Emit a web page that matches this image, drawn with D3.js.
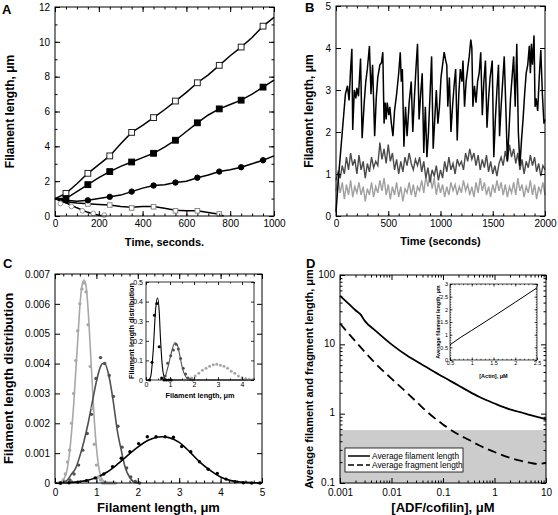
<!DOCTYPE html>
<html><head><meta charset="utf-8">
<script src="https://cdn.jsdelivr.net/npm/d3@7/dist/d3.min.js"></script>
<style>body{margin:0;background:#fff}svg{display:block}</style>
</head><body>
<svg id="c" width="558" height="515"></svg>
<script>
// ---------- Panel A data ----------
const aTime = [0,50,100,150,200,250,300,350,400,450,500,550,600,650,700,750,800,850,900,950,1000];
const aOpenSq = [1.0,1.3,1.85,2.45,2.95,3.45,4.15,4.8,5.2,5.65,6.1,6.6,7.1,7.65,8.1,8.65,9.2,9.7,10.25,10.9,11.4];
const aFillSq = [1.0,1.0,1.4,1.8,2.2,2.55,2.85,3.1,3.35,3.6,3.95,4.35,4.85,5.35,5.8,6.15,6.4,6.65,7.0,7.4,7.8];
const aFillCi = [1.0,0.9,0.85,0.9,1.0,1.1,1.2,1.4,1.6,1.75,1.8,1.92,2.0,2.2,2.35,2.55,2.65,2.8,3.0,3.2,3.45];
const aMarkIdx = [1,3,5,7,9,11,13,15,17,19];
const aGraySqTime = [0,50,100,150,200,250,300,350,400,450,500,550,600,650,700,750,770];
const aGraySq = [1.0,0.82,0.75,0.7,0.66,0.63,0.55,0.5,0.55,0.55,0.45,0.33,0.3,0.3,0.2,0.1,0.0];
const aGraySqMarkT = [150,250,350,450,550,650,750];
const aGraySqMarkV = [0.69,0.63,0.46,0.53,0.3,0.3,0.12];
const aGrayCiTime = [0,25,50,75,100,125,150,175,200,225];
const aGrayCi = [1.0,0.86,0.76,0.62,0.47,0.34,0.21,0.12,0.04,0.0];
const aGrayCiMarkT = [25,75,125,175,225];
const aGrayCiMarkV = [0.72,0.55,0.3,0.15,0.05];

// ---------- Panel B data ----------
const bBlackT = [0,30,60,90,110,125,140,152,160,175,190,200,215,235,250,270,285,300,320,335,350,370,385,400,420,435,448,460,470,480,490,505,515,530,545,560,580,600,615,625,635,650,665,680,700,720,735,750,765,780,795,810,825,840,855,870,885,900,915,930,945,960,975,990,1005,1020,1035,1050,1060,1070,1085,1100,1115,1130,1145,1160,1175,1190,1205,1215,1230,1245,1260,1275,1290,1300,1310,1325,1340,1355,1370,1385,1400,1415,1430,1445,1460,1475,1495,1510,1525,1540,1555,1565,1580,1595,1610,1625,1640,1655,1670,1685,1700,1715,1730,1745,1760,1775,1790,1805,1820,1835,1850,1860,1870,1880,1895,1905,1915,1930,1945,1960,1975,1990,2000];
const bBlackV = [0.1,1.1,2.0,2.9,3.1,2.75,3.5,3.98,2.05,3.0,2.8,3.05,2.85,3.75,1.85,2.7,3.2,3.5,4.05,2.9,3.6,1.9,2.8,3.3,3.6,3.65,3.9,2.2,2.7,2.3,2.7,2.4,2.6,2.2,1.9,2.5,2.9,3.4,3.9,3.2,3.5,1.65,2.6,1.9,2.7,3.2,2.0,2.8,3.5,4.1,2.3,2.9,3.4,1.5,2.6,1.4,2.0,2.9,3.8,1.6,2.3,3.0,2.2,2.6,3.3,3.6,3.9,3.7,3.6,2.6,3.3,2.0,2.6,3.1,3.5,1.8,2.9,3.5,3.2,3.7,2.6,3.2,3.5,3.8,4.2,4.0,2.6,3.1,2.7,3.2,3.4,3.9,2.4,3.2,3.7,2.1,2.8,3.3,3.7,1.4,2.3,3.0,3.6,1.9,2.6,3.2,3.8,2.6,1.3,2.0,2.8,3.3,3.8,2.6,4.1,2.0,1.2,1.8,2.3,2.9,3.4,3.6,4.05,3.4,4.1,3.6,4.3,2.6,2.8,2.5,3.3,3.95,2.9,2.2,2.3];
const bTime = d3.range(0, 2001, 20);
const bDark = [0.85,1.05,0.9,1.2,1.0,1.4,1.1,1.5,1.2,1.35,
  1.0,1.45,1.1,1.3,0.9,1.25,1.05,1.4,1.15,1.3,
  1.2,1.75,1.35,1.6,1.25,1.7,1.3,1.5,1.1,1.35,
  1.0,1.3,1.05,1.4,1.2,1.5,1.25,1.1,1.35,1.2,
  1.4,1.05,1.3,0.9,1.15,0.8,1.1,0.95,1.2,0.85,
  1.1,0.9,1.3,1.05,1.4,1.1,1.25,1.0,1.35,1.2,
  1.3,1.1,1.5,1.3,1.6,1.35,1.5,1.2,1.45,1.1,
  1.35,1.15,1.45,1.05,1.3,1.0,1.2,0.95,1.25,1.4,
  1.2,1.55,1.3,1.7,1.4,1.6,1.25,1.5,1.1,1.35,
  1.0,1.3,1.15,1.45,1.2,1.4,1.05,1.25,0.95,1.2,
  1.1];
const bLight = [0.6,0.9,0.55,0.8,0.4,0.75,0.5,0.85,0.45,0.7,
  0.55,0.8,0.5,0.7,0.35,0.65,0.5,0.8,0.45,0.7,
  0.55,0.85,0.6,0.9,0.5,0.75,0.4,0.7,0.5,0.8,
  0.45,0.7,0.35,0.65,0.55,0.8,0.5,0.75,0.45,0.7,
  0.6,0.85,0.55,0.95,0.7,1.0,0.65,0.9,0.5,0.8,
  0.55,0.75,0.45,0.7,0.5,0.8,0.6,0.75,0.5,0.7,
  0.55,0.85,0.6,0.75,0.5,0.7,0.45,0.8,0.55,0.9,
  0.6,0.8,0.5,0.7,0.45,0.75,0.55,0.85,0.6,0.8,
  0.5,0.75,0.45,0.7,0.55,0.8,0.5,0.9,0.6,0.75,
  0.45,0.7,0.55,0.85,0.5,0.75,0.4,0.7,0.55,0.8,
  0.5];

// ---------- Panel C data ----------
const cLightDotX = [0.1,0.15,0.2,0.25,0.3,0.35,0.4,0.45,0.5,0.55,0.6,0.65,0.7,0.75,0.8,0.85,0.9,0.95,1.0,1.05,1.1,1.15,1.2,1.25,1.3,1.35,1.4,1.45];
const cLightDotY = [0,0,0.0001,0.0003,0.0007,0.0011,0.002,0.003,0.0041,0.0051,0.006,0.0065,0.0067,0.0064,0.0053,0.0039,0.0025,0.0013,0.0006,0.0002,0.0001,0,0,0,0,0,0,0];
const cLightFitX = [0.1,0.2,0.3,0.35,0.4,0.45,0.5,0.55,0.6,0.65,0.7,0.75,0.8,0.85,0.9,0.95,1.0,1.05,1.1,1.2,1.3,1.5];
const cLightFitY = [0,0.0001,0.0005,0.001,0.0017,0.0026,0.0037,0.0048,0.0059,0.0066,0.0068,0.0066,0.0058,0.0046,0.0033,0.0021,0.0012,0.0006,0.00025,0.00003,0,0];
const cDarkDotX = [0.14,0.25,0.36,0.46,0.57,0.67,0.78,0.88,0.99,1.10,1.20,1.31,1.41,1.52,1.62,1.73,1.83,1.94,2.04];
const cDarkDotY = [0,0.00003,0.0001,0.0003,0.0006,0.0011,0.00166,0.0023,0.0035,0.0042,0.0040,0.0036,0.0029,0.0019,0.0012,0.0005,0.0002,0.00005,0];
const cDarkFitX = [0.1,0.2,0.3,0.4,0.5,0.6,0.7,0.8,0.9,1.0,1.1,1.15,1.2,1.3,1.4,1.5,1.6,1.7,1.8,1.9,2.0];
const cDarkFitY = [0,0.00003,0.0001,0.0003,0.0005,0.0009,0.0014,0.002,0.0027,0.0034,0.0039,0.004,0.004,0.0036,0.0028,0.0018,0.0011,0.0005,0.0002,0.00004,0];
const cBlackDotX = [0.13,0.34,0.55,0.76,0.97,1.18,1.39,1.60,1.81,2.02,2.23,2.44,2.66,2.86,3.06,3.28,3.49,3.70,3.92,4.13,4.35,4.55,4.75,4.95];
const cBlackDotY = [0,0.00001,0.00003,0.00008,0.00017,0.0003,0.00055,0.00083,0.00105,0.00132,0.00155,0.00155,0.00155,0.00153,0.00122,0.00105,0.00071,0.00046,0.00032,0.00013,0.00004,0.00001,0,0];
const cBlackFitX = [0,0.25,0.5,0.75,1.0,1.25,1.5,1.75,2.0,2.25,2.5,2.6,2.75,3.0,3.25,3.5,3.75,4.0,4.25,4.5,4.75,5.0];
const cBlackFitY = [0,0.00001,0.00003,0.00008,0.00018,0.00036,0.00062,0.00092,0.0012,0.00143,0.00154,0.00155,0.00152,0.00136,0.00105,0.0007,0.00042,0.0002,0.00008,0.00003,0.00001,0];
// inset C
const ciBlackDotX = [0.15,0.25,0.35,0.45,0.55,0.65,0.75,0.85,0.95,1.05];
const ciBlackDotY = [0.0,0.09,0.33,0.39,0.17,0.01,0.0,0.0,0.0,0.0];
const ciBlackFitX = [0,0.1,0.2,0.3,0.4,0.48,0.55,0.6,0.7,0.8,0.9,4.5];
const ciBlackFitY = [0,0,0.02,0.15,0.36,0.42,0.35,0.22,0.05,0.005,0,0];
const ciDarkDotX = [0.8,0.9,1.03,1.14,1.25,1.35,1.44,1.55,1.65,1.75,1.85,1.95];
const ciDarkDotY = [0.02,0.085,0.124,0.153,0.182,0.158,0.11,0.06,0.03,0.01,0.003,0];
const ciDarkFitX = [0.6,0.8,0.9,1.0,1.1,1.2,1.3,1.4,1.5,1.6,1.7,1.8,2.0];
const ciDarkFitY = [0,0.02,0.06,0.11,0.16,0.19,0.18,0.13,0.07,0.03,0.01,0,0];
const ciLightDotX = [1.6,1.75,1.9,2.05,2.2,2.35,2.5,2.65,2.8,2.95,3.1,3.25,3.4,3.55,3.7,3.85,4.0,4.15,4.3,4.45];
const ciLightDotY = [0.0,0.005,0.01,0.02,0.035,0.05,0.06,0.07,0.078,0.08,0.075,0.07,0.06,0.045,0.035,0.02,0.012,0.008,0.004,0.002];

// ---------- Panel D data ----------
const dSolidX = [0.001,0.0015,0.002,0.0025,0.003,0.005,0.01,0.02,0.0316,0.05,0.1,0.2,0.316,0.5,1,2,3.16,5,10];
const dSolidY = [50,38,31,27,22,15.5,10,6.9,5.6,4.6,3.4,2.55,2.1,1.75,1.4,1.15,1.05,0.95,0.83];
const dDashX = [0.001,0.002,0.00316,0.005,0.01,0.02,0.0316,0.05,0.1,0.2,0.316,0.5,1,2,3.16,5,7,10];
const dDashY = [20,11,7.5,5.2,3.2,2.0,1.45,1.05,0.7,0.5,0.42,0.35,0.28,0.23,0.21,0.195,0.188,0.195];
const dBand = [0.1,0.58];
const dLegend = ["Average filament length","Average fragment length"];
const diX = [0.5,0.75,1.0,1.5,2.0,2.5];
const diY = [0.6,0.9,1.17,1.72,2.28,2.85];

// ---------- drawing ----------
const FONT = "'Liberation Sans', Arial, Helvetica, sans-serif";
const svg = d3.select('#c');
svg.append('rect').attr('width',558).attr('height',515).attr('fill','#fff');

function frame(g, x, y, o) {
  const [xa, xb] = x.range(), [yb, ya] = y.range();
  const tl = o.tl || 5, mt = tl/2, fs = o.fs || 10, sw = o.sw || 1;
  const add = (axis, tx, ty) => {
    const gg = g.append('g').attr('transform', `translate(${tx},${ty})`).call(axis);
    gg.select('.domain').remove();
    gg.selectAll('text').attr('font-size', fs).attr('font-family', FONT).attr('fill', '#000');
    gg.selectAll('line').attr('stroke', '#000').attr('stroke-width', sw);
    return gg;
  };
  add(d3.axisBottom(x).tickValues(o.xt).tickSize(-tl).tickPadding(o.px || 4).tickFormat(o.xf), 0, yb);
  add(d3.axisTop(x).tickValues(o.xt).tickSize(-tl).tickFormat(''), 0, ya);
  if (o.xm) {
    add(d3.axisBottom(x).tickValues(o.xm).tickSize(-mt).tickFormat(''), 0, yb);
    add(d3.axisTop(x).tickValues(o.xm).tickSize(-mt).tickFormat(''), 0, ya);
  }
  const ly = add(d3.axisLeft(y).tickValues(o.yt).tickSize(-tl).tickPadding(o.py || 5).tickFormat(o.yf), xa, 0);
  if (o.ydy) ly.selectAll('text').attr('dy', o.ydy);
  add(d3.axisRight(y).tickValues(o.yt).tickSize(-tl).tickFormat(''), xb, 0);
  if (o.ym) {
    add(d3.axisLeft(y).tickValues(o.ym).tickSize(-mt).tickFormat(''), xa, 0);
    add(d3.axisRight(y).tickValues(o.ym).tickSize(-mt).tickFormat(''), xb, 0);
  }
  g.append('rect').attr('x', xa).attr('y', ya).attr('width', xb - xa).attr('height', yb - ya)
    .attr('fill', 'none').attr('stroke', '#000').attr('stroke-width', sw);
}
function text(g, s, x, y, size, opts = {}) {
  const t = g.append('text').attr('x', x).attr('y', y).attr('font-size', size)
    .attr('font-family', FONT).attr('font-weight', opts.bold ? 'bold' : 'normal')
    .attr('text-anchor', opts.anchor || 'middle').attr('fill', '#000').text(s);
  if (opts.rot) t.attr('transform', `rotate(-90,${x},${y})`);
  return t;
}
const rng = (a, b, s) => d3.range(a, b + s/2, s);

// ===== Panel A =====
{
  const g = svg.append('g');
  const x = d3.scaleLinear([0, 1000], [55, 274]);
  const y = d3.scaleLinear([0, 12], [216, 7]);
  const ln = (xs, ys) => d3.line().x((d, i) => x(xs[i])).y(d => y(d))(ys);
  const lines = [[aTime, aOpenSq], [aTime, aFillSq], [aTime, aFillCi], [aGraySqTime, aGraySq], [aGrayCiTime, aGrayCi]];
  lines.forEach(([xs, ys]) => g.append('path').attr('d', ln(xs, ys)).attr('fill', 'none').attr('stroke', '#000').attr('stroke-width', 1.5));
  const sq = (xs, ys, s, fill, stroke) => g.append('g').selectAll('rect').data(ys).join('rect')
    .attr('x', (d, i) => x(xs[i]) - s/2).attr('y', d => y(d) - s/2).attr('width', s).attr('height', s)
    .attr('fill', fill).attr('stroke', stroke).attr('stroke-width', 1);
  const ci = (xs, ys, r, fill, stroke) => g.append('g').selectAll('circle').data(ys).join('circle')
    .attr('cx', (d, i) => x(xs[i])).attr('cy', d => y(d)).attr('r', r)
    .attr('fill', fill).attr('stroke', stroke).attr('stroke-width', 1);
  sq(aGraySqMarkT, aGraySqMarkV, 4.6, '#fff', '#8a8a8a');
  ci(aGrayCiMarkT, aGrayCiMarkV, 2.4, '#fff', '#9a9a9a');
  sq(aMarkIdx.map(i => aTime[i]), aMarkIdx.map(i => aOpenSq[i]), 5.8, '#fff', '#222');
  sq(aMarkIdx.map(i => aTime[i]), aMarkIdx.map(i => aFillSq[i]), 5.8, '#000', '#000');
  ci(aMarkIdx.map(i => aTime[i]), aMarkIdx.map(i => aFillCi[i]), 2.7, '#000', '#000');
  frame(g, x, y, { xt: rng(0, 1000, 200), xm: rng(0, 1000, 50), yt: rng(0, 12, 2), ym: rng(0, 12, 1), xf: d3.format('d'), yf: d3.format('d') });
  text(g, 'A', 2, 14, 13, { bold: true, anchor: 'start' });
  text(g, 'Time, seconds.', 164.5, 246, 11, { bold: true });
  text(g, 'Filament length, \u03bcm', 14, 111.5, 12, { bold: true, rot: true });
}

// ===== Panel B =====
{
  const g = svg.append('g');
  const x = d3.scaleLinear([0, 2000], [336, 545]);
  const y = d3.scaleLinear([0, 5], [216, 6]);
  const ln = (xs, ys) => d3.line().x((d, i) => x(xs[i])).y(d => y(d))(ys);
  g.append('path').attr('d', ln(bTime, bLight)).attr('fill', 'none').attr('stroke', '#a0a0a0').attr('stroke-width', 1.4);
  g.append('path').attr('d', ln(bTime, bDark)).attr('fill', 'none').attr('stroke', '#4a4a4a').attr('stroke-width', 1.4);
  g.append('path').attr('d', ln(bBlackT, bBlackV)).attr('fill', 'none').attr('stroke', '#000').attr('stroke-width', 1.5);
  frame(g, x, y, { xt: rng(0, 2000, 500), xm: rng(0, 2000, 100), yt: rng(0, 5, 1), xf: d3.format('d'), yf: d3.format('d') });
  text(g, 'B', 305, 12, 13, { bold: true, anchor: 'start' });
  text(g, 'Time (seconds)', 440.5, 245, 11, { bold: true });
  text(g, 'Filament length, \u03bcm', 313, 111, 12, { bold: true, rot: true });
}

// ===== Panel C =====
{
  const g = svg.append('g');
  const x = d3.scaleLinear([0, 5], [55, 262]);
  const y = d3.scaleLinear([0, 0.007], [483, 274]);
  const ln = (xs, ys) => d3.line().curve(d3.curveMonotoneX).x((d, i) => x(xs[i])).y(d => y(d))(ys);
  const dots = (xs, ys, col, r, xx = x, yy = y) => g.append('g').selectAll('circle').data(ys).join('circle')
    .attr('cx', (d, i) => xx(xs[i])).attr('cy', d => yy(d)).attr('r', r).attr('fill', col);
  const LG = '#a8a8a8', DG = '#505050';
  g.append('path').attr('d', ln(cLightFitX, cLightFitY)).attr('fill', 'none').attr('stroke', LG).attr('stroke-width', 1.6);
  g.append('path').attr('d', ln(cDarkFitX, cDarkFitY)).attr('fill', 'none').attr('stroke', DG).attr('stroke-width', 1.6);
  g.append('path').attr('d', ln(cBlackFitX, cBlackFitY)).attr('fill', 'none').attr('stroke', '#000').attr('stroke-width', 1.6);
  dots(cLightDotX, cLightDotY, LG, 1.7);
  dots(cDarkDotX, cDarkDotY, DG, 1.7);
  dots(cBlackDotX, cBlackDotY, '#000', 1.7);
  frame(g, x, y, { px: 6, xt: rng(0, 5, 1), xm: rng(0, 5, 0.2), yt: rng(0, 0.007, 0.001), xf: d3.format('d'),
    yf: d => d === 0 ? '0' : d3.format('.3f')(d) });
  text(g, 'C', 3, 268, 13, { bold: true, anchor: 'start' });
  text(g, 'Filament length, \u03bcm', 158.5, 512, 13, { bold: true });
  text(g, 'Filament length distribution', 13, 378.5, 13, { bold: true, rot: true });

  const xi = d3.scaleLinear([0, 4.5], [146, 254]);
  const yi = d3.scaleLinear([0, 0.5], [380, 282]);
  g.append('rect').attr('x', 146).attr('y', 282).attr('width', 108).attr('height', 98).attr('fill', '#fff');
  const lni = (xs, ys) => d3.line().curve(d3.curveMonotoneX).x((d, i) => xi(xs[i])).y(d => yi(d))(ys);
  g.append('path').attr('d', lni(ciDarkFitX, ciDarkFitY)).attr('fill', 'none').attr('stroke', DG).attr('stroke-width', 1.1);
  g.append('path').attr('d', lni(ciBlackFitX, ciBlackFitY)).attr('fill', 'none').attr('stroke', '#000').attr('stroke-width', 1.1);
  dots(ciLightDotX, ciLightDotY, LG, 1.5, xi, yi);
  dots(ciDarkDotX, ciDarkDotY, DG, 1.5, xi, yi);
  dots(ciBlackDotX, ciBlackDotY, '#000', 1.5, xi, yi);
  frame(g, xi, yi, { tl: 3, fs: 7, px: 2, py: 3, sw: 0.8, xt: rng(0, 4, 1), xm: rng(0, 4.5, 0.5), yt: rng(0, 0.5, 0.1),
    xf: d3.format('d'), yf: d => d === 0 ? '0' : d3.format('.1f')(d) });
  text(g, 'Filament length, \u03bcm', 200, 398, 7.3, { bold: true });
  text(g, 'Filament length distribution', 134, 331, 7.3, { bold: true, rot: true });
}

// ===== Panel D =====
{
  const g = svg.append('g');
  const x = d3.scaleLog([0.001, 10], [340, 546]);
  const y = d3.scaleLog([0.1, 100], [483, 275]);
  g.append('rect').attr('x', 340).attr('y', y(dBand[1])).attr('width', 206).attr('height', y(dBand[0]) - y(dBand[1])).attr('fill', '#cccccc');
  const ln = (xs, ys) => d3.line().curve(d3.curveMonotoneX).x((d, i) => x(xs[i])).y(d => y(d))(ys);
  g.append('path').attr('d', ln(dSolidX, dSolidY)).attr('fill', 'none').attr('stroke', '#000').attr('stroke-width', 1.8);
  g.append('path').attr('d', ln(dDashX, dDashY)).attr('fill', 'none').attr('stroke', '#000').attr('stroke-width', 1.8).attr('stroke-dasharray', '9,5');
  const minorX = [], minorY = [];
  [0.001, 0.01, 0.1, 1].forEach(b => { for (let k = 2; k <= 9; k++) minorX.push(b * k); });
  [0.1, 1, 10].forEach(b => { for (let k = 2; k <= 9; k++) minorY.push(b * k); });
  frame(g, x, y, { px: 6, ydy: '0.2em', xt: [0.001, 0.01, 0.1, 1, 10], xm: minorX, yt: [0.1, 1, 10, 100], ym: minorY,
    xf: d => String(d), yf: d => String(d) });
  g.append('rect').attr('x', 345).attr('y', 448).attr('width', 118).attr('height', 24).attr('fill', '#fff').attr('stroke', '#000').attr('stroke-width', 0.8);
  dLegend.forEach((s, i) => {
    const yy = 456 + i * 9;
    g.append('line').attr('x1', 348).attr('x2', 370).attr('y1', yy).attr('y2', yy).attr('stroke', '#000').attr('stroke-width', 1.5)
      .attr('stroke-dasharray', i ? '6,3' : null);
    text(g, s, 372, yy + 3, 8.3, { anchor: 'start' });
  });
  text(g, 'D', 306, 268, 13, { bold: true, anchor: 'start' });
  text(g, '[ADF/cofilin], \u03bcM', 443, 512, 13, { bold: true });
  text(g, 'Average filament and fragment length, \u03bcm', 313, 379, 11, { bold: true, rot: true });

  const xi = d3.scaleLinear([0.5, 2.5], [450, 537]);
  const yi = d3.scaleLinear([0, 3], [360, 284]);
  g.append('rect').attr('x', 450).attr('y', 284).attr('width', 87).attr('height', 76).attr('fill', '#fff');
  g.append('path').attr('d', d3.line().x((d, i) => xi(diX[i])).y(d => yi(d))(diY)).attr('fill', 'none').attr('stroke', '#000').attr('stroke-width', 1);
  frame(g, xi, yi, { tl: 2.5, fs: 5.5, px: 1.5, py: 2, sw: 0.7, xt: rng(0.5, 2.5, 0.5), xm: rng(0.5, 2.5, 0.1),
    yt: rng(0, 3, 0.5), ym: rng(0, 3, 0.1), xf: d => String(+d.toFixed(1)), yf: d => String(+d.toFixed(1)) });
  text(g, '[Actin], \u03bcM', 493.5, 378, 5.5, { bold: true });
  text(g, 'Average filament length, \u03bcm', 440, 322, 5.5, { bold: true, rot: true });
}
</script>
</body></html>
